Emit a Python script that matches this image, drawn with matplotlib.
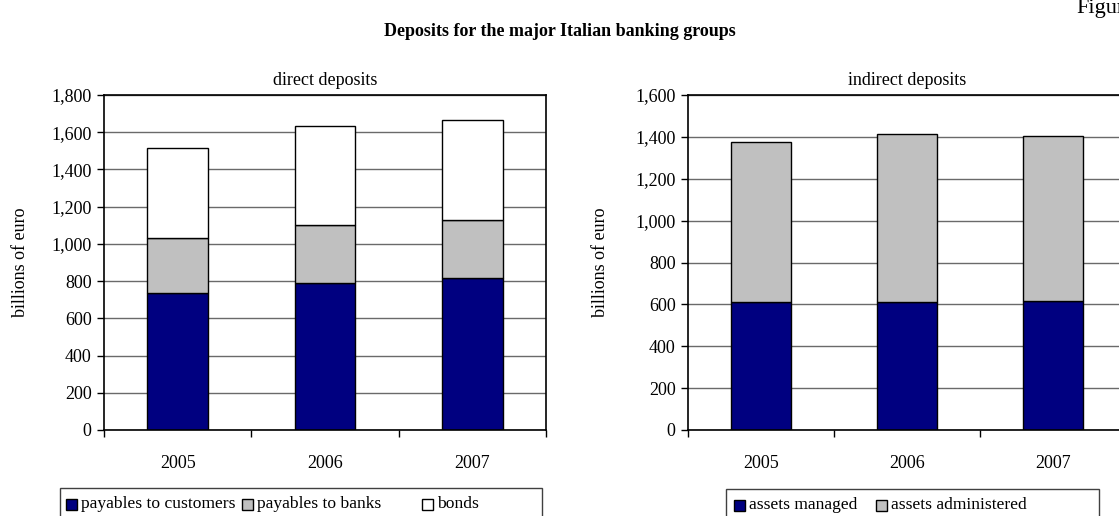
import matplotlib
matplotlib.use("Agg")
import matplotlib.pyplot as plt
from matplotlib.patches import Rectangle
import numpy as np

plt.rcParams['font.family'] = ['Liberation Serif', 'DejaVu Serif']

years = ["2005", "2006", "2007"]

# direct deposits (billions of euro)
payables_customers = [734, 791, 818]
payables_banks = [296, 311, 308]
bonds = [485, 530, 542]
direct_names = ["payables to customers", "payables to banks", "bonds"]

# indirect deposits (billions of euro)
assets_managed = [610, 610, 614]
assets_administered = [765, 803, 791]
indirect_names = ["assets managed", "assets administered"]

W, H = 1119, 516
fig = plt.figure(figsize=(W / 100, H / 100), dpi=100)

NAVY = "#000080"
GREY = "#C0C0C0"
FS = 13
LEG_FS = 12.6


def px_axes(x0, x1, y_top, y_bot):
    return fig.add_axes([x0 / W, 1 - y_bot / H, (x1 - x0) / W, (y_bot - y_top) / H])


def style_axes(ax, ymax):
    x = np.arange(len(years))
    ax.set_xlim(-0.5, len(years) - 0.5)
    ax.set_ylim(0, ymax)
    ax.set_yticks(np.arange(0, ymax + 1, 200))
    ax.set_yticklabels([f"{v:,}" for v in range(0, ymax + 1, 200)], fontsize=FS)
    ax.yaxis.grid(True, color="#6a6a6a", lw=1)
    ax.set_axisbelow(True)
    ax.set_xticks(np.arange(-0.5, len(years)), labels=[""] * (len(years) + 1))
    ax.set_xticks(x, labels=years, minor=True, fontsize=FS)
    ax.tick_params(axis="x", which="major", direction="out", length=5, width=1)
    ax.tick_params(axis="x", which="minor", length=0, pad=18)
    ax.tick_params(axis="y", direction="out", length=5, width=1, pad=4)
    for s in ax.spines.values():
        s.set_linewidth(1.2)
    ax.set_ylabel("billions of euro", fontsize=FS)
    return x


def px_legend(box_x0, box_x1, box_top, entries):
    """Excel-style legend box drawn in figure pixel coordinates."""
    fig.patches.append(Rectangle((box_x0 / W, 1 - (box_top + 60) / H),
                                 (box_x1 - box_x0) / W, 60 / H,
                                 transform=fig.transFigure, facecolor="white",
                                 edgecolor="#404040", lw=1))
    yc = box_top + 16
    for mx, color, name in entries:
        fig.patches.append(Rectangle((mx / W, 1 - (yc + 5.5) / H), 11 / W, 11 / H,
                                     transform=fig.transFigure, facecolor=color,
                                     edgecolor="black", lw=1))
        fig.text((mx + 15) / W, 1 - yc / H, name, ha="left", va="center",
                 fontsize=LEG_FS)


# left panel: direct deposits
ax1 = px_axes(104, 546, 95, 430)
x = style_axes(ax1, 1800)
bw = 0.41
ax1.bar(x, payables_customers, bw, color=NAVY, edgecolor="black", lw=1)
bottom2 = np.array(payables_customers)
ax1.bar(x, payables_banks, bw, bottom=bottom2, color=GREY, edgecolor="black", lw=1)
bottom3 = bottom2 + np.array(payables_banks)
ax1.bar(x, bonds, bw, bottom=bottom3, color="white", edgecolor="black", lw=1)
ax1.set_title("direct deposits", fontsize=FS, pad=7)
ax1.yaxis.set_label_coords(-0.17, 0.5)

# right panel: indirect deposits (extends past the right edge)
ax2 = px_axes(688, 1126, 95, 430)
x = style_axes(ax2, 1600)
ax2.bar(x, assets_managed, bw, color=NAVY, edgecolor="black", lw=1)
ax2.bar(x, assets_administered, bw, bottom=assets_managed, color=GREY,
        edgecolor="black", lw=1)
ax2.set_title("indirect deposits", fontsize=FS, pad=7)
ax2.yaxis.set_label_coords(-0.181, 0.5)

px_legend(60, 542, 488, zip([66, 242, 422], [NAVY, GREY, "white"], direct_names))
px_legend(726, 1099, 489, zip([734, 876], [NAVY, GREY], indirect_names))

fig.text(560 / W, 1 - 32 / H, "Deposits for the major Italian banking groups",
         ha="center", va="center", fontsize=FS, fontweight="bold")
fig.text(1076 / W, 1 - 8 / H, "Figure", ha="left", va="center", fontsize=16)

fig.savefig("out.png", dpi=100)
